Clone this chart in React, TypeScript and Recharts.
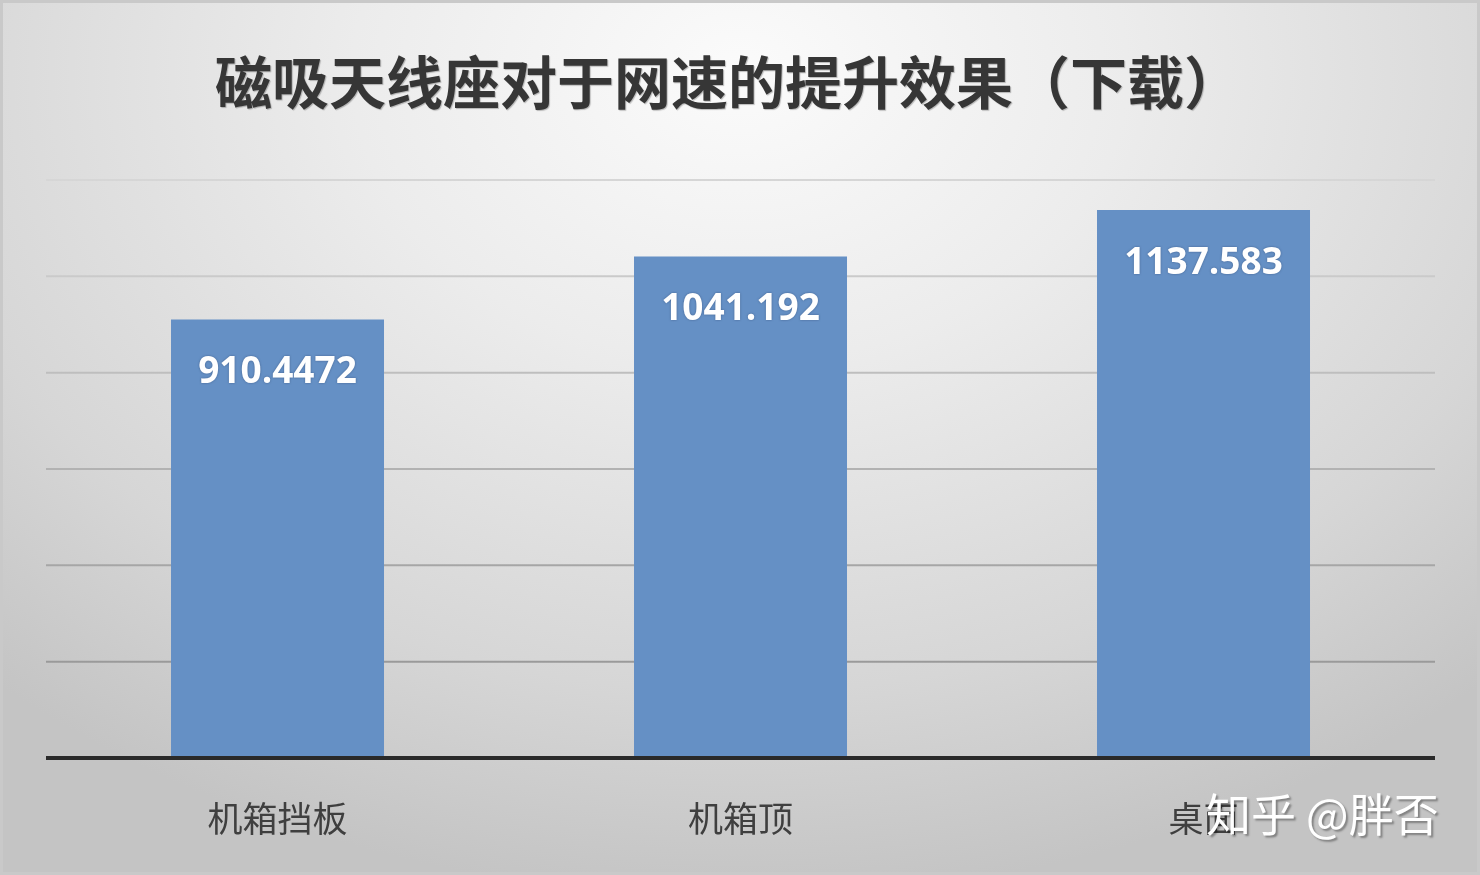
import { BarChart, Bar, XAxis, YAxis, CartesianGrid, LabelList } from "recharts";

const categories = ["机箱挡板", "机箱顶", "桌面"];
const downloadSpeed = [910.4472, 1041.192, 1137.583];
const valueLabels = ["910.4472", "1041.192", "1137.583"];
const yTicks = [0, 200, 400, 600, 800, 1000, 1200];

const chartData = categories.map((name, i) => ({
  name,
  value: downloadSpeed[i],
  label: valueLabels[i],
}));

const CategoryTick = (props: any) => {
  const { x, y, payload } = props;
  return (
    <text
      x={x}
      y={y + 50}
      textAnchor="middle"
      dominantBaseline="central"
      fill="#3f3f3f"
      fontSize={35}
      fontFamily="'Noto Sans CJK SC', sans-serif"
    >
      {payload.value}
    </text>
  );
};

const ValueLabel = (props: any) => {
  const { x, y, width, index } = props;
  return (
    <text
      x={x + width / 2}
      y={y + 64}
      textAnchor="middle"
      fill="#ffffff"
      fontSize={37}
      fontWeight={700}
      fontFamily="'Open Sans', sans-serif"
      style={{ filter: "drop-shadow(0 0 1px rgba(40,60,100,0.5))" }}
    >
      {valueLabels[index]}
    </text>
  );
};

export default function App() {
  return (
    <div
      style={{
        position: "fixed",
        left: 0,
        top: 0,
        width: 1480,
        height: 875,
        boxSizing: "border-box",
        border: "3px solid #c9c9c9",
        background:
          "radial-gradient(ellipse 75% 95% at 50% 8%, #fbfbfb 0%, #ececec 35%, #d6d6d6 75%, #c4c4c4 100%)",
        overflow: "hidden",
      }}
    >
      <div
        style={{
          position: "absolute",
          left: 212,
          top: 38,
          fontSize: 57,
          fontWeight: 700,
          color: "#363636",
          fontFamily: "'Noto Sans CJK SC', sans-serif",
          whiteSpace: "nowrap",
          lineHeight: "76px",
          textShadow: "1px 1px 1px rgba(0,0,0,0.25)",
        }}
      >
        磁吸天线座对于网速的提升效果（下载）
      </div>
      <div style={{ position: "absolute", left: -3, top: -3 }}>
        <BarChart
          width={1480}
          height={875}
          data={chartData}
          margin={{ top: 180, right: 45, left: 46, bottom: 0 }}
          barCategoryGap="27%"
        >
          <defs>
            <linearGradient id="gridGrad" gradientUnits="userSpaceOnUse" x1="0" y1="180" x2="0" y2="758">
              <stop offset="0%" stopColor="#d6d6d6" />
              <stop offset="100%" stopColor="#8e8e8e" />
            </linearGradient>
          </defs>
          <CartesianGrid vertical={false} stroke="url(#gridGrad)" strokeWidth={2} />
          <YAxis hide domain={[0, 1200]} ticks={yTicks} />
          <XAxis
            dataKey="name"
            height={117}
            tickLine={false}
            axisLine={{ stroke: "#2a2a2a", strokeWidth: 4 }}
            tick={<CategoryTick />}
            interval={0}
          />
          <Bar dataKey="value" fill="#6590c5" isAnimationActive={false}>
            <LabelList dataKey="label" content={<ValueLabel />} />
          </Bar>
        </BarChart>
      </div>
      <div
        style={{
          position: "absolute",
          left: 1203,
          top: 780,
          fontSize: 45,
          color: "#ffffff",
          fontFamily: "'Noto Sans CJK SC', sans-serif",
          whiteSpace: "nowrap",
          lineHeight: "60px",
          textShadow: "2px 2px 2px rgba(0,0,0,0.35)",
        }}
      >
        知乎 @胖否
      </div>
    </div>
  );
}
